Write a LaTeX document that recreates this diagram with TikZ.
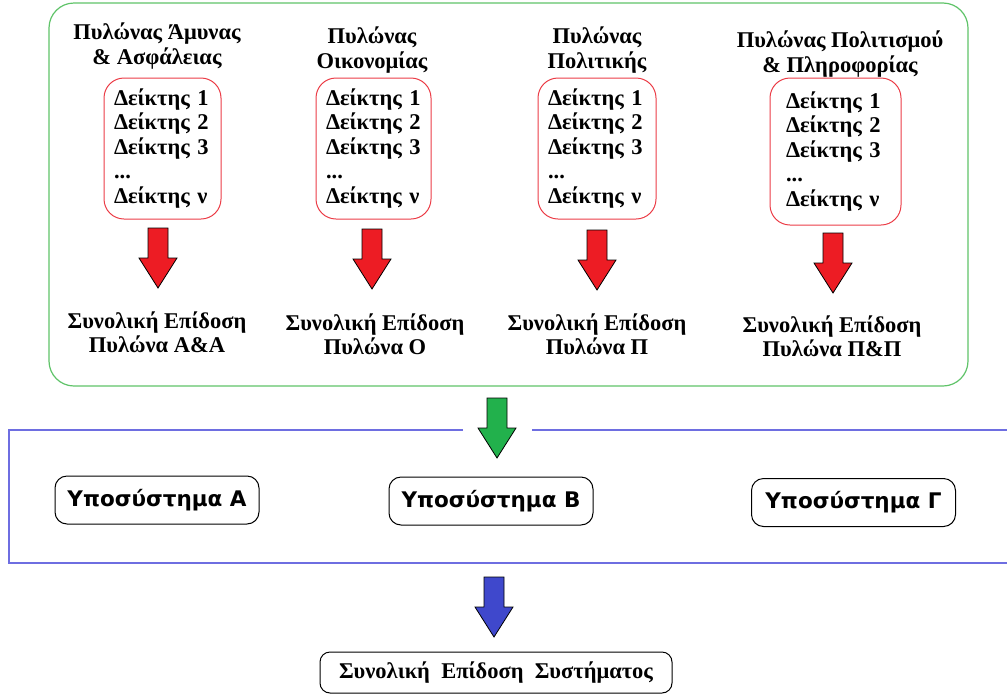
\documentclass[tikz,border=0pt]{standalone}
\usepackage{fontspec}
\setmainfont{Liberation Serif}
\newfontfamily\subfont{DejaVu Sans}
\definecolor{frameGreen}{RGB}{95,195,105}
\definecolor{boxRed}{RGB}{235,60,70}
\definecolor{lineBlue}{RGB}{110,110,225}
\definecolor{arrRed}{RGB}{237,28,36}
\definecolor{arrGreen}{RGB}{34,177,76}
\definecolor{arrBlue}{RGB}{63,72,204}
\newcommand\blockarrow[3]{% x, ytop, colour
  \draw[fill=#3, draw=black, line width=0.8pt, line join=miter]
    (#1-10,#2) -- (#1+10,#2) -- (#1+10,#2+30) -- (#1+19,#2+30) -- (#1,#2+60)
    -- (#1-19,#2+30) -- (#1-10,#2+30) -- cycle;}
\begin{document}
\begin{tikzpicture}[x=1pt,y=-1pt,
  every node/.style={font=\fontsize{22.5}{24.5}\selectfont\bfseries, inner sep=0pt},
  title/.style={align=center},
  listbox/.style={draw=boxRed, line width=1pt, rounded corners=20pt, align=left, inner xsep=10pt, minimum height=141pt},
  result/.style={align=center},
  subbox/.style={draw=black, line width=1pt, rounded corners=12pt, minimum width=204pt, minimum height=48pt, font=\subfont\fontsize{21.5}{24}\selectfont\bfseries},
]
\useasboundingbox (0,0) rectangle (1007,694);
% green frame
\draw[frameGreen, line width=1.2pt, rounded corners=25pt] (49,3) rectangle (968,386);
% pillar titles
\node[title] (t1) at (157,46) {Πυλώνας Άμυνας\\\& Ασφάλειας};
\node[title] (t2) at (372,50) {Πυλώνας\\Οικονομίας};
\node[title] (t3) at (597,50) {Πυλώνας\\Πολιτικής};
\node[title] (t4) at (840,54) {Πυλώνας Πολιτισμού\\\& Πληροφορίας};
% indicator boxes
\node[listbox, text width=97pt] (l1) at (162.5,148.5) {Δείκτης 1\\Δείκτης 2\\Δείκτης 3\\...\\Δείκτης ν};
\node[listbox, text width=95pt] (l2) at (373.5,148.5) {Δείκτης 1\\Δείκτης 2\\Δείκτης 3\\...\\Δείκτης ν};
\node[listbox, text width=98pt] (l3) at (597,148.5) {Δείκτης 1\\Δείκτης 2\\Δείκτης 3\\...\\Δείκτης ν};
\node[listbox, text width=99pt, inner xsep=16pt, minimum height=147pt] (l4) at (835.5,151.5) {Δείκτης 1\\Δείκτης 2\\Δείκτης 3\\...\\Δείκτης ν};
% red arrows
\blockarrow{158}{228}{arrRed}
\blockarrow{372}{229}{arrRed}
\blockarrow{597}{230}{arrRed}
\blockarrow{833}{233}{arrRed}
% results
\node[result] (r1) at (157,332) {Συνολική Επίδοση\\Πυλώνα Α\&Α};
\node[result] (r2) at (375,334) {Συνολική Επίδοση\\Πυλώνα Ο};
\node[result] (r3) at (597,334) {Συνολική Επίδοση\\Πυλώνα Π};
\node[result] (r4) at (832,336) {Συνολική Επίδοση\\Πυλώνα Π\&Π};
% green arrow
\blockarrow{497}{398}{arrGreen}
% blue frame (open on the right, gap at top)
\draw[lineBlue, line width=1.2pt] (463,430) -- (9,430) -- (9,563) -- (1007,563);
\draw[lineBlue, line width=1.2pt] (532,430) -- (1007,430);
% subsystems
\node[subbox] (sA) at (157,500) {Υποσύστημα Α};
\node[subbox] (sB) at (491,501) {Υποσύστημα Β};
\node[subbox] (sG) at (853.5,502.5) {Υποσύστημα Γ};
% blue arrow
\blockarrow{494}{577}{arrBlue}
% total
\node[draw=black, line width=1pt, rounded corners=10pt, minimum width=352pt, minimum height=41pt] (tot) at (496,672.5) {Συνολική\ \ Επίδοση\ \ Συστήματος};
\end{tikzpicture}
\end{document}
